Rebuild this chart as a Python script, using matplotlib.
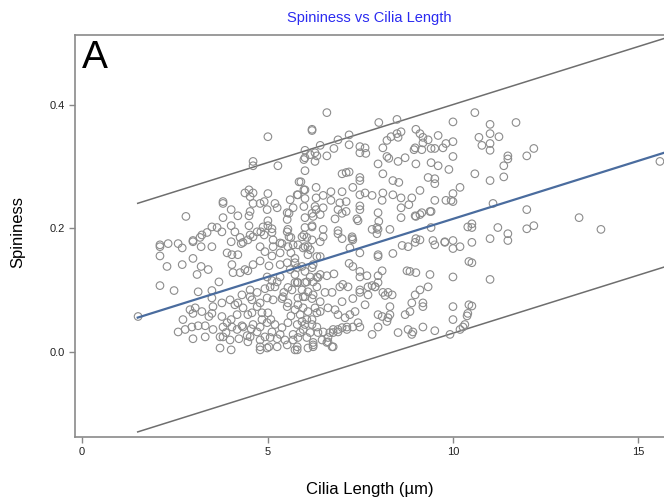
import matplotlib
matplotlib.use('Agg')
import matplotlib.pyplot as plt
import numpy as np

plt.rcParams['font.family'] = ['Liberation Sans', 'DejaVu Sans']

# values (cilia length in um, spininess)
cilia_len = [
    10.59, 11.70, 11.0, 10.70, 11.0, 11.24, 10.78, 11.0, 11.0, 12.18, 11.99, 11.48, 11.48, 11.37, 10.59, 11.0, 11.37, 15.58,
    11.08, 11.99, 13.40, 13.99, 10.51, 10.51, 11.21, 11.48, 11.99, 12.18, 10.51, 11.0, 11.48, 10.51, 11.0, 10.51, 10.40, 10.32,
    6.60, 6.20, 8.0, 8.49, 10.0, 6.90, 7.20,
    6.01, 6.42, 6.15, 6.33, 6.60, 5.98, 6.28,
    6.79, 7.20, 7.49, 7.63, 7.49, 7.65, 8.11,
    8.22, 8.33, 8.49, 8.60, 8.52,
    9.0, 9.11, 9.19, 9.33, 9.19, 8.98, 8.95, 9.16,
    9.41, 9.51, 9.60, 9.73, 9.81, 10.0, 10.0,
    8.22, 8.27, 8.52, 8.71, 7.98, 8.11,
    9.0, 9.41, 9.60, 9.89, 6.01,
    7.01, 7.12, 7.20, 7.49, 7.49, 8.38, 8.54,
    9.33, 9.51, 9.51, 5.90, 6.31, 5.98, 5.82, 7.30, 7.01,
    10.19, 10.0, 9.95,
    6.71, 6.50, 6.31, 6.71, 6.95, 7.12, 6.01,
    7.49, 7.63, 7.82, 8.11, 8.09, 8.38, 8.60, 8.89, 9.11,
    9.51, 9.81, 10.0,
    5.98, 6.31, 6.50, 6.90, 7.12, 7.49, 7.49,
    8.60, 8.81, 9.41, 9.16, 9.0, 7.98, 8.30,
    6.01, 6.20, 6.42, 6.82, 7.01, 7.41, 7.44, 8.0,
    8.60, 8.98, 9.11, 9.38,
    6.01, 6.20, 6.50, 6.90, 7.82, 7.95, 9.41,
    5.98, 6.50, 6.90, 7.28, 7.95, 7.98,
    6.20, 6.42, 7.01, 7.28, 9.0, 9.11, 9.46, 9.78, 10.0, 10.40,
    5.01, 4.61, 4.61, 5.28, 5.85, 5.80, 4.39, 4.50, 4.61, 5.01,
    3.80, 3.80, 4.61, 4.80, 4.91, 5.20,
    4.02, 4.20, 4.53, 4.50, 5.69, 5.58, 2.80,
    3.80, 4.02, 4.50, 5.01, 5.01,
    3.50, 3.64, 3.77, 3.37, 3.23, 2.99, 3.18,
    4.12, 4.26, 4.53, 4.72, 4.82, 4.91, 5.12, 5.12, 5.53, 5.58, 5.63,
    2.10, 2.32, 2.59,
    6.20, 6.20, 5.93, 5.69, 5.53, 5.53, 5.55, 5.34, 5.15, 4.88, 4.61, 4.47, 4.99, 5.26, 4.53, 5.61,
    6.28, 6.01, 6.01, 6.28, 6.23, 6.06, 6.01, 6.15, 6.33,
    1.51, 2.10, 2.10, 2.70, 2.70, 2.99, 2.99, 3.21, 3.21, 3.50, 3.40, 3.10, 2.29, 2.10, 2.48, 3.13, 3.69, 3.50, 3.50,
    3.91, 4.04, 4.20, 4.04, 4.07, 4.26,
    4.02, 4.29, 4.34, 4.39, 4.47, 4.61, 4.80, 5.04, 5.12, 4.93, 5.15, 4.80, 5.39, 5.55, 5.63, 5.74, 5.61, 5.34,
    4.31, 4.53, 4.72, 4.93, 5.20, 5.44, 5.66, 5.74, 5.12, 5.34,
    2.91, 3.05, 2.99, 3.23, 2.72, 2.59, 2.78, 2.96, 3.13, 3.32, 2.99, 3.32, 3.42, 3.50, 3.53, 3.77,
    3.91, 4.02, 4.12, 4.20, 4.34, 4.47, 4.58, 4.72, 4.85, 5.01, 4.31, 4.18, 4.04, 3.88, 3.80, 3.72,
    4.02, 4.23, 4.45, 4.56, 4.72, 4.80, 4.85, 5.09, 5.20, 4.93, 5.12, 5.26, 5.04, 4.80, 5.39, 5.55,
    5.63, 5.74, 5.55, 5.39, 5.47, 5.69, 5.80, 5.74,
    5.34, 5.53, 5.80, 6.23, 4.99, 5.26, 5.07, 4.53, 4.58, 4.80, 4.99, 5.15, 4.18, 4.99, 4.61, 4.34,
    3.80, 3.53, 3.72, 3.99, 4.53, 4.80, 5.07, 5.34, 5.69, 5.26, 4.99, 4.80, 4.47,
    5.53, 5.88, 6.01, 6.23, 6.20, 6.33, 5.88, 5.53, 5.42, 5.96, 6.23, 6.33, 6.06, 5.80, 5.55,
    3.77, 3.99,
    5.82, 5.96, 6.09, 6.09, 6.42, 7.22, 7.30, 7.49, 7.98, 7.98, 8.38, 8.63, 8.79, 8.98,
    9.51, 9.78, 10.0, 10.19, 10.43, 7.20, 7.30,
    7.49, 7.49, 7.68, 7.98, 8.09, 7.98, 7.90, 7.71,
    8.76, 8.84, 9.0, 9.38, 10.0,
    5.74, 5.93, 6.01, 6.20, 5.74, 6.15, 6.33, 6.42, 6.60, 6.79,
    5.82, 6.01, 6.23, 6.36,
    5.93, 6.09, 5.82, 6.01, 6.20, 6.42, 6.55, 6.74, 6.95, 7.03, 7.17, 7.49, 7.49, 7.71, 7.90, 8.11, 8.25, 8.36, 8.17,
    7.01, 7.30, 7.63, 8.30, 7.98, 8.09, 8.25,
    8.89, 9.11, 9.19, 9.19, 9.33, 8.98,
    8.71, 8.84, 8.79, 8.92, 8.89, 9.19, 9.51,
    10.0, 10.0, 10.38, 10.43, 9.92, 10.19,
    8.52, 7.82,
    5.82, 5.96, 6.09, 6.28, 6.42, 6.63, 6.82, 6.90, 7.09, 7.22, 7.36, 7.44, 7.49, 7.30, 7.14, 6.90,
    6.77, 6.63, 6.50, 6.33, 6.20, 6.06, 5.93, 5.80, 5.96, 6.15, 6.36, 5.82, 6.06, 6.23, 6.47, 6.63,
    6.77, 5.80, 6.09,
    10.27, 7.82, 7.98, 8.30, 8.22, 7.14, 7.01, 6.90, 6.77, 6.60, 6.74, 6.68, 6.23,
]
spininess = [
    0.387, 0.371, 0.368, 0.347, 0.353, 0.348, 0.334, 0.337, 0.326, 0.329, 0.317, 0.317, 0.312, 0.301, 0.288, 0.277, 0.283, 0.308,
    0.240, 0.230, 0.217, 0.198, 0.207, 0.201, 0.201, 0.191, 0.199, 0.204, 0.177, 0.183, 0.180, 0.144, 0.117, 0.074, 0.062, 0.044,
    0.387, 0.360, 0.371, 0.376, 0.372, 0.343, 0.351,
    0.326, 0.334, 0.319, 0.317, 0.317, 0.311, 0.308,
    0.329, 0.335, 0.332, 0.330, 0.322, 0.321, 0.330,
    0.342, 0.348, 0.353, 0.356, 0.347,
    0.360, 0.353, 0.347, 0.343, 0.338, 0.330, 0.327, 0.327,
    0.329, 0.329, 0.350, 0.330, 0.337, 0.340, 0.316,
    0.316, 0.313, 0.308, 0.314, 0.304, 0.288,
    0.304, 0.306, 0.301, 0.295, 0.293,
    0.288, 0.290, 0.291, 0.282, 0.277, 0.277, 0.274,
    0.282, 0.280, 0.272, 0.275, 0.266, 0.262, 0.254, 0.266, 0.259,
    0.266, 0.256, 0.245,
    0.259, 0.253, 0.249, 0.245, 0.241, 0.243, 0.248,
    0.254, 0.257, 0.253, 0.257, 0.245, 0.254, 0.249, 0.249, 0.261,
    0.245, 0.245, 0.243,
    0.235, 0.230, 0.233, 0.230, 0.227, 0.236, 0.230,
    0.233, 0.238, 0.227, 0.225, 0.219, 0.225, 0.198,
    0.217, 0.224, 0.222, 0.215, 0.224, 0.215, 0.212, 0.211,
    0.217, 0.220, 0.222, 0.227,
    0.201, 0.204, 0.198, 0.196, 0.198, 0.201, 0.201,
    0.189, 0.186, 0.191, 0.186, 0.191, 0.198,
    0.181, 0.178, 0.183, 0.183, 0.183, 0.181, 0.180, 0.178, 0.180, 0.202,
    0.348, 0.308, 0.301, 0.301, 0.275, 0.254, 0.257, 0.262, 0.257, 0.256,
    0.243, 0.240, 0.240, 0.240, 0.243, 0.240,
    0.230, 0.220, 0.227, 0.220, 0.233, 0.224, 0.219,
    0.217, 0.204, 0.204, 0.212, 0.204,
    0.202, 0.201, 0.194, 0.193, 0.189, 0.180, 0.185,
    0.194, 0.185, 0.189, 0.194, 0.194, 0.189, 0.199, 0.193, 0.194, 0.186, 0.185,
    0.173, 0.175, 0.175,
    0.358, 0.202, 0.186, 0.173, 0.225, 0.214, 0.198, 0.176, 0.181, 0.202, 0.186, 0.181, 0.230, 0.233, 0.251, 0.246,
    0.322, 0.314, 0.262, 0.235, 0.219, 0.185, 0.170, 0.165, 0.154,
    0.057, 0.170, 0.155, 0.168, 0.141, 0.178, 0.151, 0.170, 0.138, 0.170, 0.133, 0.125, 0.138, 0.107, 0.099, 0.097, 0.113, 0.099, 0.087,
    0.160, 0.157, 0.157, 0.141, 0.128, 0.128,
    0.178, 0.175, 0.177, 0.133, 0.131, 0.141, 0.147, 0.139, 0.155, 0.162, 0.170, 0.170, 0.175, 0.170, 0.160, 0.151, 0.133, 0.141,
    0.092, 0.089, 0.096, 0.102, 0.105, 0.096, 0.100, 0.112, 0.115, 0.121,
    0.068, 0.071, 0.062, 0.065, 0.052, 0.032, 0.036, 0.040, 0.042, 0.042, 0.021, 0.024, 0.057, 0.062, 0.073, 0.057,
    0.047, 0.052, 0.076, 0.079, 0.071, 0.060, 0.063, 0.073, 0.063, 0.063, 0.042, 0.036, 0.040, 0.031, 0.024, 0.006,
    0.003, 0.021, 0.026, 0.037, 0.032, 0.040, 0.052, 0.052, 0.044, 0.024, 0.032, 0.021, 0.008, 0.008, 0.039, 0.047,
    0.058, 0.068, 0.079, 0.086, 0.019, 0.028, 0.008, 0.003,
    0.160, 0.144, 0.136, 0.141, 0.121, 0.113, 0.105, 0.100, 0.084, 0.079, 0.087, 0.084, 0.060, 0.047, 0.044, 0.040,
    0.040, 0.036, 0.024, 0.019, 0.024, 0.019, 0.023, 0.028, 0.019, 0.008, 0.006, 0.003, 0.016,
    0.011, 0.031, 0.044, 0.011, 0.052, 0.063, 0.060, 0.073, 0.089, 0.089, 0.092, 0.105, 0.113, 0.112, 0.104,
    0.079, 0.084,
    0.173, 0.168, 0.170, 0.157, 0.154, 0.168, 0.181, 0.160, 0.157, 0.154, 0.159, 0.172, 0.170, 0.177,
    0.173, 0.177, 0.167, 0.170, 0.146, 0.143, 0.138,
    0.130, 0.121, 0.123, 0.123, 0.131, 0.112, 0.105, 0.105,
    0.131, 0.130, 0.128, 0.125, 0.121,
    0.144, 0.138, 0.130, 0.136, 0.125, 0.121, 0.121, 0.125, 0.123, 0.126,
    0.112, 0.112, 0.113, 0.120,
    0.100, 0.097, 0.087, 0.089, 0.086, 0.081, 0.096, 0.096, 0.105, 0.109, 0.105, 0.100, 0.096, 0.092, 0.105, 0.096, 0.096, 0.092, 0.091,
    0.081, 0.086, 0.076, 0.073, 0.060, 0.057, 0.055,
    0.079, 0.100, 0.079, 0.073, 0.105, 0.092,
    0.060, 0.065, 0.036, 0.032, 0.028, 0.040, 0.034,
    0.073, 0.052, 0.058, 0.076, 0.028, 0.036,
    0.031, 0.028,
    0.076, 0.071, 0.065, 0.071, 0.065, 0.071, 0.068, 0.060, 0.055, 0.060, 0.065, 0.047, 0.040, 0.040, 0.040, 0.036,
    0.031, 0.023, 0.032, 0.040, 0.044, 0.052, 0.049, 0.044, 0.036, 0.031, 0.031, 0.023, 0.023, 0.015, 0.019, 0.016,
    0.008, 0.003, 0.006,
    0.040, 0.107, 0.040, 0.060, 0.049, 0.036, 0.039, 0.032, 0.036, 0.015, 0.008, 0.031, 0.008,
]

# regression line and prediction band
fit_x = [1.5, 15.7]
fit_intercept = 0.027
fit_slope = 0.0188
band_half = 0.185

fig = plt.figure(figsize=(6.64, 5.04), dpi=100)
ax = fig.add_axes([0.113, 0.133, 0.887, 0.798])

fx = np.array(fit_x)
fy = fit_intercept + fit_slope * fx
ax.plot(fx, fy + band_half, color='#6e6e6e', lw=1.1, zorder=2)
ax.plot(fx, fy - band_half, color='#6e6e6e', lw=1.1, zorder=2)
ax.scatter(cilia_len, spininess, s=30, facecolors='none', edgecolors='#8c8c8c', linewidths=0.8, zorder=3)
ax.plot(fx, fy, color='#4a6c9e', lw=1.6, zorder=4)

ax.set_xlim(-0.19, 15.69)
ax.set_ylim(-0.138, 0.513)
ax.set_xticks([0, 5, 10, 15])
ax.set_yticks([0.0, 0.2, 0.4])
ax.set_yticklabels(['0.0', '0.2', '0.4'])
ax.tick_params(axis='both', direction='out', length=4, width=1, color='#888888', labelsize=8, labelcolor='#222222')

for side in ['left', 'bottom', 'top']:
    ax.spines[side].set_color('#8a8a8a')
    ax.spines[side].set_linewidth(1.2)
ax.spines['right'].set_visible(False)

ax.set_xlabel('Cilia Length (µm)', fontsize=12)
ax.set_ylabel('Spininess', fontsize=12)
ax.xaxis.set_label_coords(0.5, -0.112)
ax.yaxis.set_label_coords(-0.085, 0.51)
ax.set_title('Spininess vs Cilia Length', color='#2b2bf0', fontsize=10.5, pad=9)
ax.text(0.012, 0.918, 'A', transform=ax.transAxes, fontsize=28, va='baseline', ha='left')

plt.savefig('out.png', dpi=100)
